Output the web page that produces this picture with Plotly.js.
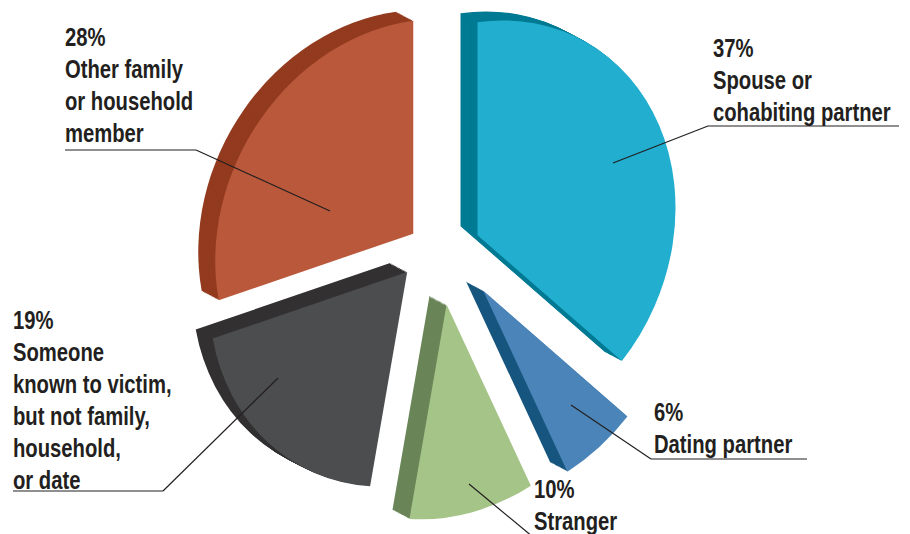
<!DOCTYPE html>
<html>
<head>
<meta charset="utf-8">
<script src="https://cdn.plot.ly/plotly-3.0.1.min.js"></script>
<style>
html,body{margin:0;padding:0;width:910px;height:534px;overflow:hidden;background:#fff}
#chart{position:absolute;left:0;top:-40px;width:910px;height:614px}
</style>
</head>
<body>
<div id="chart"></div>
<script>
const categories = ['Spouse or cohabiting partner','Dating partner','Stranger','Someone known to victim, but not family, household, or date','Other family or household member'];
const shares = [37, 6, 10, 19, 28];
const pulls = [0.19, 0.25, 0.224, 0.17, 0.195];
const faceColors = ['#21AECF','#4A84B8','#A5C487','#4B4D4F','#B9583A'];
const sideColors = ['#007B94','#17567F','#6A8558','#333132','#933B1F'];

const labelLines = [
  [713, 48, '37%'], [713, 80, 'Spouse or'], [713, 112, 'cohabiting partner'],
  [654, 412, '6%'], [654, 444, 'Dating partner'],
  [534, 489, '10%'], [534, 521, 'Stranger'],
  [13, 320, '19%'], [13, 352, 'Someone'], [13, 384, 'known to victim,'], [13, 416, 'but not family,'], [13, 448, 'household,'], [13, 480, 'or date'],
  [65, 37, '28%'], [65, 69, 'Other family'], [65, 101, 'or household'], [65, 133, 'member']
];
const leaders = [
  [[613,163],[708,126],[899,126]],
  [[571,405],[651,459],[807,459]],
  [[469,484],[533,537]],
  [[278,378],[163,491],[13,491]],
  [[330,211],[196,150],[65,150]]
];

const W = 910, H = 614, TOP = 40;
const cx = 443, cy = 256, R = 204, depthX = 17, depthY = 9, steps = 14;
// tilt of the drawn disc (the reference is a perspective view of a 3D pie)
const tiltA = 198 / R, tiltB = -27.3 / R, tiltD = 213 / R;
// residual shift of each exploded slice, in pixels
const nudgeX = [0, 11, -2, -12, 0];
const nudgeY = [0, -4.5, 2, -13, 0];
const textSqueeze = 0.81;

const maxPull = Math.max(...pulls);
const half = R * (1 + maxPull);
const px = x => x / W;
const py = y => 1 - (y + TOP) / H;

const traces = [], centers = [];
for (let i = steps; i >= 0; i--) {
  const f = i / steps;
  const x0 = cx - depthX * f, y0 = cy - depthY * f;
  centers.push([x0, y0 + TOP]);
  traces.push({
    type: 'pie',
    labels: categories,
    values: shares,
    pull: pulls,
    sort: false,
    direction: 'clockwise',
    rotation: 0,
    textinfo: 'none',
    hoverinfo: 'skip',
    showlegend: false,
    marker: {colors: i === 0 ? faceColors : sideColors, line: {width: 0}},
    domain: {x: [px(x0 - half), px(x0 + half)], y: [py(y0 + half), py(y0 - half)]}
  });
}

const shapes = [];
leaders.forEach(pts => {
  for (let k = 0; k < pts.length - 1; k++) {
    shapes.push({type: 'line', xref: 'paper', yref: 'paper',
      x0: px(pts[k][0]), y0: py(pts[k][1]), x1: px(pts[k+1][0]), y1: py(pts[k+1][1]),
      line: {color: '#231F20', width: 1.2}});
  }
});

const annotations = labelLines.map(l => ({
  xref: 'paper', yref: 'paper', x: px(l[0] - 1), y: py(l[1]),
  xanchor: 'left', yanchor: 'middle', showarrow: false, align: 'left', borderpad: 0,
  text: l[2],
  font: {family: '"Liberation Sans", sans-serif', size: 25, color: '#231F20', weight: 700}
}));

Plotly.newPlot('chart', traces, {
  width: W, height: H,
  margin: {l: 0, r: 0, t: 0, b: 0, pad: 0},
  paper_bgcolor: '#fff', showlegend: false,
  shapes, annotations
}, {displayModeBar: false}).then(gd => {
  gd.querySelectorAll('.pielayer .trace').forEach((tr, t) => {
    const c = centers[t];
    tr.querySelectorAll('.slice').forEach((s, k) => {
      const e = c[0] - tiltA * c[0] + nudgeX[k];
      const f = c[1] - tiltB * c[0] - tiltD * c[1] + nudgeY[k];
      s.setAttribute('transform', `matrix(${tiltA},${tiltB},0,${tiltD},${e},${f})`);
    });
  });
  gd.querySelectorAll('.annotation-text').forEach(t => {
    const x = parseFloat(t.getAttribute('x')) || 0;
    const own = t.getAttribute('transform') || '';
    t.setAttribute('transform', `${own} translate(${x},0) scale(${textSqueeze},1) translate(${-x},0)`);
  });
});
</script>
</body>
</html>
